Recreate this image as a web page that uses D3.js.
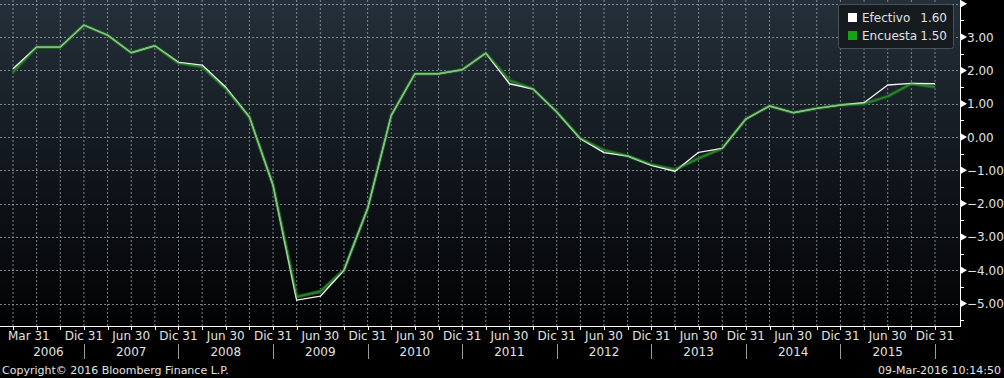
<!DOCTYPE html>
<html lang="es">
<head>
<meta charset="UTF-8">
<script src="https://d3js.org/d3.v7.min.js"></script>
<style>
    body {margin: 0; background-color: #000;}
    svg {display: block; font-family: "DejaVu Sans", sans-serif;}
</style>
</head>
<body>
<svg class="chart" width="1004" height="378"></svg>
<script type="text/javascript">
    // quarter ends, Mar 2006 .. Dec 2015
    const quarters = [
        "2006-03-31","2006-06-30","2006-09-30","2006-12-31",
        "2007-03-31","2007-06-30","2007-09-30","2007-12-31",
        "2008-03-31","2008-06-30","2008-09-30","2008-12-31",
        "2009-03-31","2009-06-30","2009-09-30","2009-12-31",
        "2010-03-31","2010-06-30","2010-09-30","2010-12-31",
        "2011-03-31","2011-06-30","2011-09-30","2011-12-31",
        "2012-03-31","2012-06-30","2012-09-30","2012-12-31",
        "2013-03-31","2013-06-30","2013-09-30","2013-12-31",
        "2014-03-31","2014-06-30","2014-09-30","2014-12-31",
        "2015-03-31","2015-06-30","2015-09-30","2015-12-31"
    ];
    const efectivo = [2.05, 2.70, 2.70, 3.36, 3.06, 2.53, 2.74, 2.24, 2.16, 1.49, 0.60, -1.45,
        -4.90, -4.78, -4.00, -2.15, 0.65, 1.90, 1.90, 2.02, 2.52, 1.60, 1.44, 0.75,
        -0.05, -0.47, -0.57, -0.85, -1.03, -0.46, -0.34, 0.54, 0.93, 0.73, 0.86, 0.96,
        1.03, 1.56, 1.61, 1.60];
    const encuesta = [1.95, 2.70, 2.70, 3.36, 3.06, 2.53, 2.74, 2.22, 2.11, 1.45, 0.60, -1.45,
        -4.80, -4.64, -4.00, -2.15, 0.65, 1.90, 1.90, 2.02, 2.52, 1.70, 1.44, 0.75,
        -0.04, -0.40, -0.57, -0.83, -0.98, -0.64, -0.34, 0.54, 0.93, 0.73, 0.86, 0.96,
        1.00, 1.22, 1.60, 1.50];
    const xTickQuarters = ["2006-03-31","2006-12-31","2007-06-30","2007-12-31","2008-06-30","2008-12-31",
        "2009-06-30","2009-12-31","2010-06-30","2010-12-31","2011-06-30","2011-12-31","2012-06-30",
        "2012-12-31","2013-06-30","2013-12-31","2014-06-30","2014-12-31","2015-06-30","2015-12-31"];
    const years = [2006, 2007, 2008, 2009, 2010, 2011, 2012, 2013, 2014, 2015];
    const yTicks = [4, 3, 2, 1, 0, -1, -2, -3, -4, -5];
    const monthNames = {"03": "Mar", "06": "Jun", "09": "Sep", "12": "Dic"};

    let plot_right = 960;
    let plot_bottom = 326;
    let text_color = "#e2e2e2";

    var svg = d3.select(".chart");

    var x = d3.scalePoint().domain(quarters).range([13, 935]);
    var y = d3.scaleLinear().domain([0, 1]).range([137, 103.7]);

    var defs = svg.append("defs");
    var grad = defs.append("linearGradient").attr("id", "bg")
        .attr("x1", 0).attr("y1", 0).attr("x2", 0).attr("y2", 1);
    grad.append("stop").attr("offset", "0%").attr("stop-color", "#25303a");
    grad.append("stop").attr("offset", "55%").attr("stop-color", "#10151b");
    grad.append("stop").attr("offset", "100%").attr("stop-color", "#020203");
    defs.append("clipPath").attr("id", "clip").append("rect")
        .attr("x", 0).attr("y", 0).attr("width", plot_right).attr("height", plot_bottom);

    svg.append("rect").attr("x", 0).attr("y", 0).attr("width", plot_right).attr("height", plot_bottom)
        .attr("fill", "url(#bg)");

    // grid
    svg.append("g").selectAll("line").data(quarters).enter().append("line")
        .attr("x1", d => x(d)).attr("x2", d => x(d))
        .attr("y1", 0).attr("y2", plot_bottom)
        .attr("stroke", "#a0a8b0").attr("stroke-width", 1).attr("stroke-dasharray", "2,2")
        .attr("opacity", 0.75);
    svg.append("g").selectAll("line").data(yTicks).enter().append("line")
        .attr("x1", 0).attr("x2", plot_right)
        .attr("y1", d => Math.round(y(d)) + 0.5).attr("y2", d => Math.round(y(d)) + 0.5)
        .attr("stroke", "#a0a8b0").attr("stroke-width", 1).attr("stroke-dasharray", "2,2")
        .attr("opacity", 0.75);

    // series
    var line_e = d3.line().x((d, i) => x(quarters[i])).y(d => y(d));
    var lines = svg.append("g").attr("clip-path", "url(#clip)");
    lines.append("path").datum(encuesta).attr("d", line_e)
        .attr("fill", "none").attr("stroke", "#1a5e1d").attr("stroke-width", 3.6)
        .attr("stroke-linejoin", "round");
    lines.append("path").datum(efectivo).attr("d", line_e)
        .attr("fill", "none").attr("stroke", "#f2f2f2").attr("stroke-width", 1.4)
        .attr("stroke-linejoin", "round");
    lines.append("path").datum(encuesta).attr("d", line_e)
        .attr("fill", "none").attr("stroke", "#3f9f3f").attr("stroke-width", 1.4)
        .attr("stroke-linejoin", "round").attr("opacity", 0.6);

    // y axis (right)
    var yaxis = svg.append("g");
    yaxis.append("line").attr("x1", plot_right + 0.5).attr("x2", plot_right + 0.5)
        .attr("y1", 0).attr("y2", plot_bottom + 1).attr("stroke", "#fff").attr("stroke-width", 1);
    yaxis.selectAll(".tri").data(yTicks).enter().append("path")
        .attr("d", d => "M" + (plot_right + 1) + "," + (y(d) - 3.5) + "L" + (plot_right + 7) + "," + y(d)
            + "L" + (plot_right + 1) + "," + (y(d) + 3.5) + "Z")
        .attr("fill", "#fff");
    yaxis.selectAll(".minor").data(yTicks.map(d => d - 0.5)).enter().append("line")
        .attr("x1", plot_right).attr("x2", plot_right + 4)
        .attr("y1", d => Math.round(y(d)) + 0.5).attr("y2", d => Math.round(y(d)) + 0.5)
        .attr("stroke", "#fff");
    yaxis.selectAll("text").data(yTicks.filter(d => d < 4)).enter().append("text")
        .attr("x", plot_right + 7).attr("y", d => y(d) + 4.5)
        .attr("fill", text_color).attr("font-size", "12px")
        .text(d => d3.format(".2f")(d));

    // x axis
    var xaxis = svg.append("g");
    xaxis.append("line").attr("x1", 0).attr("x2", plot_right + 1)
        .attr("y1", plot_bottom + 0.5).attr("y2", plot_bottom + 0.5).attr("stroke", "#fff");
    xaxis.selectAll(".tick").data(quarters).enter().append("line")
        .attr("x1", d => Math.round(x(d)) + 0.5).attr("x2", d => Math.round(x(d)) + 0.5)
        .attr("y1", plot_bottom).attr("y2", plot_bottom + 4).attr("stroke", "#fff");
    xaxis.selectAll("text.q").data(xTickQuarters).enter().append("text")
        .attr("x", (d, i) => i === 0 ? 8 : x(d))
        .attr("y", 340)
        .attr("text-anchor", (d, i) => i === 0 ? "start" : "middle")
        .attr("fill", text_color).attr("font-size", "12px")
        .text(d => monthNames[d.slice(5, 7)] + " " + d.slice(8, 10));

    function yearStart(yr) {
        return yr === years[0] ? x(quarters[0]) : x((yr - 1) + "-12-31");
    }
    xaxis.selectAll("text.yr").data(years).enter().append("text")
        .attr("x", d => (yearStart(d) + x(d + "-12-31")) / 2)
        .attr("y", 356).attr("text-anchor", "middle")
        .attr("fill", text_color).attr("font-size", "12px")
        .text(d => d);
    xaxis.selectAll(".sep").data(years).enter().append("line")
        .attr("x1", d => Math.round(x(d + "-12-31")) + 0.5).attr("x2", d => Math.round(x(d + "-12-31")) + 0.5)
        .attr("y1", 344).attr("y2", 359).attr("stroke", "#9a9a9a");

    // legend
    var legend = svg.append("g");
    legend.append("rect").attr("x", 838.5).attr("y", 4.5).attr("width", 115).attr("height", 44)
        .attr("rx", 2).attr("fill", "#161b20").attr("stroke", "#4a5057");
    var entries = [["Efectivo", efectivo, "#ffffff"], ["Encuesta", encuesta, "#13a313"]];
    entries.forEach((e, i) => {
        legend.append("rect").attr("x", 848).attr("y", 13 + i * 18).attr("width", 9).attr("height", 9)
            .attr("fill", e[2]);
        legend.append("text").attr("x", 862).attr("y", 22 + i * 18)
            .attr("fill", text_color).attr("font-size", "12px").text(e[0]);
        legend.append("text").attr("x", 947).attr("y", 22 + i * 18).attr("text-anchor", "end")
            .attr("fill", text_color).attr("font-size", "12px")
            .text(d3.format(".2f")(e[1][e[1].length - 1]));
    });

    svg.append("text").attr("x", 2).attr("y", 374).attr("fill", text_color).attr("font-size", "11px")
        .text("Copyright\u00a9 2016 Bloomberg Finance L.P.");
    svg.append("text").attr("x", 1001).attr("y", 374).attr("text-anchor", "end")
        .attr("fill", text_color).attr("font-size", "11px")
        .text("09-Mar-2016 10:14:50");
</script>
</body>
</html>
